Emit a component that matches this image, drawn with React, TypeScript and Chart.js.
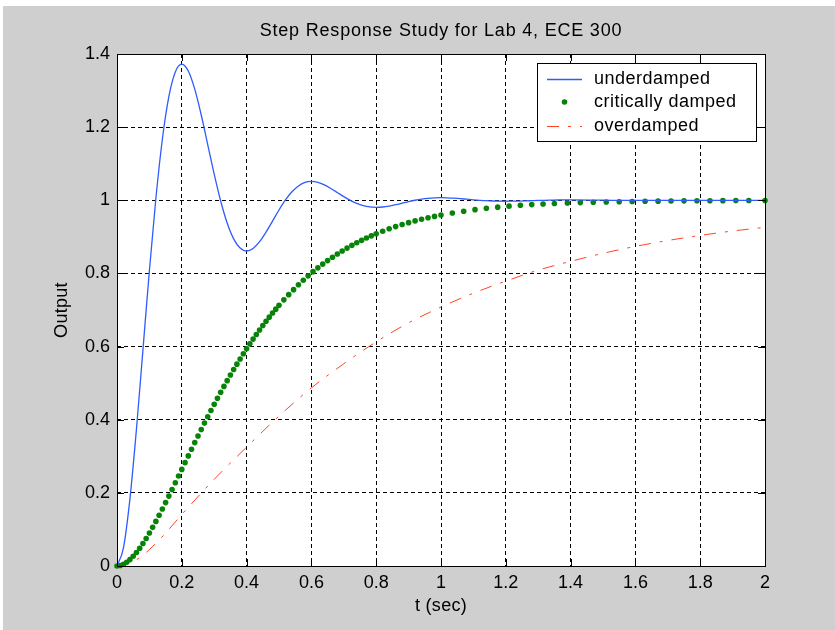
import React, { useEffect, useRef } from "react";
import { Chart, registerables } from "chart.js";

Chart.register(...registerables);

const titleText = "Step Response Study for Lab 4, ECE 300";
const xTitle = "t (sec)";
const yTitle = "Output";

const xTicks = [0, 0.2, 0.4, 0.6, 0.8, 1, 1.2, 1.4, 1.6, 1.8, 2];
const xTickLabels = ["0", "0.2", "0.4", "0.6", "0.8", "1", "1.2", "1.4", "1.6", "1.8", "2"];
const yTicks = [0, 0.2, 0.4, 0.6, 0.8, 1, 1.2, 1.4];
const yTickLabels = ["0", "0.2", "0.4", "0.6", "0.8", "1", "1.2", "1.4"];

const seriesNames = ["underdamped", "critically damped", "overdamped"];

// underdamped response
const underT = [
  0, 0.02, 0.04, 0.06, 0.08, 0.1, 0.12, 0.14, 0.16, 0.18,
  0.2, 0.22, 0.24, 0.26, 0.28, 0.3, 0.32, 0.34, 0.36, 0.38,
  0.4, 0.42, 0.44, 0.46, 0.48, 0.5, 0.52, 0.54, 0.56, 0.58,
  0.6, 0.62, 0.64, 0.66, 0.68, 0.7, 0.72, 0.74, 0.76, 0.78,
  0.8, 0.82, 0.84, 0.86, 0.88, 0.9, 0.92, 0.94, 0.96, 0.98,
  1.0, 1.02, 1.04, 1.06, 1.08, 1.1, 1.12, 1.14, 1.16, 1.18,
  1.2, 1.22, 1.24, 1.26, 1.28, 1.3, 1.32, 1.34, 1.36, 1.38,
  1.4, 1.5, 1.6, 1.7, 1.8, 1.9, 2.0,
];
const underY = [
  0, 0.0503, 0.1843, 0.3738, 0.5904, 0.8081, 1.0055, 1.167, 1.2832, 1.351,
  1.3724, 1.3536, 1.3038, 1.2332, 1.1525, 1.0715, 0.998, 0.9378, 0.8945, 0.8693,
  0.8613, 0.8683, 0.8869, 0.9132, 0.9432, 0.9734, 1.0008, 1.0232, 1.0393, 1.0487,
  1.0516, 1.049, 1.0421, 1.0323, 1.0212, 1.0099, 0.9997, 0.9914, 0.9854, 0.9819,
  0.9808, 0.9817, 0.9843, 0.988, 0.9921, 0.9963, 1.0001, 1.0032, 1.0054, 1.0067,
  1.0072, 1.0068, 1.0058, 1.0045, 1.0029, 1.0014, 1.0, 0.9988, 0.998, 0.9975,
  0.9973, 0.9975, 0.9978, 0.9983, 0.9989, 0.9995, 1.0, 1.0004, 1.0008, 1.0009,
  1.001, 1.0002, 0.9996, 0.9999, 1.0, 1.0, 1.0,
];

// critically damped response (sampled points)
const critT = [
  0, 0.01, 0.02, 0.03, 0.04, 0.05, 0.06, 0.07, 0.08, 0.09,
  0.1, 0.11, 0.12, 0.13, 0.14, 0.15, 0.16, 0.17, 0.18, 0.19,
  0.2, 0.21, 0.22, 0.23, 0.24, 0.25, 0.26, 0.27, 0.28, 0.29,
  0.3, 0.31, 0.32, 0.33, 0.34, 0.35, 0.36, 0.37, 0.38, 0.39,
  0.4, 0.41, 0.42, 0.43, 0.44, 0.45, 0.46, 0.47, 0.48, 0.49,
  0.5, 0.515, 0.53, 0.545, 0.56, 0.575, 0.59, 0.605, 0.62, 0.635,
  0.65, 0.665, 0.68, 0.695, 0.71, 0.725, 0.74, 0.755, 0.77, 0.785,
  0.8, 0.82, 0.84, 0.86, 0.88, 0.9, 0.92, 0.94, 0.96, 0.98,
  1.0, 1.035, 1.07, 1.105, 1.14, 1.175, 1.21, 1.245, 1.28, 1.315,
  1.35, 1.39, 1.43, 1.47, 1.51, 1.55, 1.59, 1.63, 1.67, 1.71,
  1.75, 1.79, 1.83, 1.87, 1.91, 1.95, 2.0,
];
const critY = [
  0, 0.0012, 0.0047, 0.0102, 0.0175, 0.0265, 0.0369, 0.0487, 0.0616, 0.0754,
  0.0902, 0.1057, 0.1219, 0.1386, 0.1558, 0.1734, 0.1912, 0.2093, 0.2275, 0.2459,
  0.2642, 0.2826, 0.301, 0.3192, 0.3374, 0.3554, 0.3732, 0.3908, 0.4082, 0.4253,
  0.4422, 0.4588, 0.4751, 0.4911, 0.5068, 0.5221, 0.5372, 0.5519, 0.5662, 0.5803,
  0.594, 0.6074, 0.6204, 0.6331, 0.6454, 0.6575, 0.6691, 0.6805, 0.6916, 0.7023,
  0.7127, 0.7277, 0.7420, 0.7557, 0.7689, 0.7814, 0.7934, 0.8048, 0.8153, 0.8255,
  0.8351, 0.8443, 0.8532, 0.8614, 0.8693, 0.8768, 0.8838, 0.8905, 0.8968, 0.9028,
  0.9084, 0.9153, 0.922, 0.928, 0.9337, 0.9388, 0.9437, 0.9481, 0.9523, 0.956,
  0.9596, 0.9651, 0.9701, 0.9744, 0.9781, 0.9812, 0.9840, 0.9863, 0.9882, 0.9899,
  0.9913, 0.9926, 0.9937, 0.9947, 0.9955, 0.9962, 0.9968, 0.9973, 0.9977, 0.9981,
  0.9984, 0.9986, 0.9988, 0.999, 0.9992, 0.9993, 0.9995,
];

// overdamped response
const overT = [0, 0.05, 0.1, 0.15, 0.2, 0.3, 0.4, 0.5, 0.6, 0.7, 0.8, 0.9, 1.0, 1.1, 1.2, 1.3, 1.4, 1.5, 1.6, 1.7, 1.8, 1.9, 2.0];
const overY = [0, 0.012, 0.045, 0.09, 0.141, 0.237, 0.325, 0.41, 0.487, 0.553, 0.613, 0.665, 0.708, 0.746, 0.779, 0.809, 0.833, 0.855, 0.874, 0.89, 0.904, 0.916, 0.926];

const BLUE = "#2f5bff";
const GREEN = "#078407";
const RED = "#ff4425";
const FONT = '"Liberation Sans", Arial, sans-serif';

const pairs = (xs: number[], ys: number[]) => xs.map((x, i) => ({ x, y: ys[i] }));

const decor = {
  id: "decor",
  beforeDraw(chart: any) {
    const { ctx, width, height, chartArea: a } = chart;
    ctx.save();
    ctx.fillStyle = "#ffffff";
    ctx.fillRect(0, 0, width, height);
    ctx.fillStyle = "#cfcfcf";
    ctx.fillRect(3, 6, width - 3, height - 6);
    ctx.fillStyle = "#ffffff";
    ctx.fillRect(a.left, a.top, a.right - a.left, a.bottom - a.top);
    ctx.restore();
  },
  afterDraw(chart: any) {
    const { ctx, chartArea: a, scales } = chart;
    const xs = scales.x;
    const ys = scales.y;
    ctx.save();
    // axes box
    ctx.strokeStyle = "#000";
    ctx.lineWidth = 1;
    ctx.setLineDash([]);
    ctx.strokeRect(Math.round(a.left) + 0.5, Math.round(a.top) + 0.5, Math.round(a.right - a.left), Math.round(a.bottom - a.top));
    // inward tick marks
    const tl = 7;
    ctx.beginPath();
    xTicks.forEach((v) => {
      const px = Math.round(xs.getPixelForValue(v)) + 0.5;
      ctx.moveTo(px, a.bottom);
      ctx.lineTo(px, a.bottom - tl);
      ctx.moveTo(px, a.top);
      ctx.lineTo(px, a.top + tl);
    });
    yTicks.forEach((v) => {
      const py = Math.round(ys.getPixelForValue(v)) + 0.5;
      ctx.moveTo(a.left, py);
      ctx.lineTo(a.left + tl, py);
      ctx.moveTo(a.right, py);
      ctx.lineTo(a.right - tl, py);
    });
    ctx.stroke();

    // titles
    ctx.fillStyle = "#000";
    ctx.font = `18px ${FONT}`;
    ctx.textAlign = "center";
    ctx.textBaseline = "middle";
    const cx = (a.left + a.right) / 2;
    ctx.letterSpacing = "0.8px";
    ctx.fillText(titleText, cx, 31);
    ctx.letterSpacing = "0.3px";
    ctx.fillText(xTitle, cx, 606);
    ctx.save();
    ctx.translate(62, (a.top + a.bottom) / 2);
    ctx.rotate(-Math.PI / 2);
    ctx.fillText(yTitle, 0, 0);
    ctx.restore();

    // legend
    const lx = 537, ly = 63, lw = 219, lh = 78;
    ctx.fillStyle = "#fff";
    ctx.fillRect(lx, ly, lw, lh);
    ctx.strokeStyle = "#000";
    ctx.strokeRect(lx + 0.5, ly + 0.5, lw, lh);
    const rows = [79, 102, 126];
    const ds = chart.data.datasets;
    // underdamped sample
    ctx.strokeStyle = ds[0].borderColor;
    ctx.lineWidth = ds[0].borderWidth;
    ctx.beginPath();
    ctx.moveTo(547, rows[0] + 0.5);
    ctx.lineTo(582, rows[0] + 0.5);
    ctx.stroke();
    // critically damped sample
    ctx.fillStyle = ds[1].backgroundColor;
    ctx.beginPath();
    ctx.arc(564.5, rows[1], ds[1].pointRadius, 0, Math.PI * 2);
    ctx.fill();
    // overdamped sample
    ctx.strokeStyle = ds[2].borderColor;
    ctx.lineWidth = ds[2].borderWidth;
    ctx.setLineDash(ds[2].borderDash);
    ctx.beginPath();
    ctx.moveTo(547, rows[2] + 0.5);
    ctx.lineTo(582, rows[2] + 0.5);
    ctx.stroke();
    ctx.setLineDash([]);
    ctx.fillStyle = "#000";
    ctx.textAlign = "left";
    ctx.textBaseline = "middle";
    ctx.font = `18px ${FONT}`;
    ctx.letterSpacing = "0.5px";
    seriesNames.forEach((n, i) => ctx.fillText(n, 594, rows[i]));
    ctx.restore();
  },
};

export default function App() {
  const ref = useRef<HTMLCanvasElement | null>(null);
  useEffect(() => {
    if (!ref.current) return;
    const chart = new Chart(ref.current, {
      type: "line",
      data: {
        datasets: [
          {
            label: seriesNames[0],
            data: pairs(underT, underY),
            borderColor: BLUE,
            borderWidth: 1.3,
            pointRadius: 0,
            cubicInterpolationMode: "monotone",
            fill: false,
          },
          {
            label: seriesNames[1],
            data: pairs(critT, critY),
            showLine: false,
            borderColor: GREEN,
            backgroundColor: GREEN,
            pointRadius: 2.8,
            pointBorderWidth: 0,
            pointBackgroundColor: GREEN,
            clip: false,
          },
          {
            label: seriesNames[2],
            data: pairs(overT, overY),
            borderColor: RED,
            borderWidth: 1,
            borderDash: [12, 9, 3, 9],
            pointRadius: 0,
            cubicInterpolationMode: "monotone",
            fill: false,
          },
        ],
      } as any,
      options: {
        animation: false,
        responsive: false,
        devicePixelRatio: 1,
        layout: { padding: { top: 54, right: 70, bottom: 0, left: 0 } },
        plugins: { legend: { display: false }, title: { display: false }, tooltip: { enabled: false } },
        scales: {
          x: {
            type: "linear",
            min: 0,
            max: 2,
            afterBuildTicks: (s: any) => {
              s.ticks = xTicks.map((v) => ({ value: v }));
            },
            afterFit: (s: any) => {
              s.height = 64;
            },
            ticks: {
              autoSkip: false,
              maxRotation: 0,
              padding: 6,
              color: "#000",
              font: { family: FONT, size: 18 },
              callback: (_v: any, i: number) => xTickLabels[i],
            },
            grid: { color: "#000", lineWidth: 1, drawTicks: false },
            border: { display: false, dash: [4, 3] },
          },
          y: {
            type: "linear",
            min: 0,
            max: 1.4,
            afterBuildTicks: (s: any) => {
              s.ticks = yTicks.map((v) => ({ value: v }));
            },
            afterFit: (s: any) => {
              s.width = 117;
            },
            ticks: {
              autoSkip: false,
              padding: 7,
              color: "#000",
              font: { family: FONT, size: 18 },
              callback: (_v: any, i: number) => yTickLabels[i],
            },
            grid: { color: "#000", lineWidth: 1, drawTicks: false },
            border: { display: false, dash: [4, 3] },
          },
        },
      },
      plugins: [decor],
    });
    return () => chart.destroy();
  }, []);
  return (
    <div style={{ position: "absolute", left: 0, top: 0, width: 835, height: 630 }}>
      <canvas ref={ref} width={835} height={630} style={{ display: "block" }} />
    </div>
  );
}
